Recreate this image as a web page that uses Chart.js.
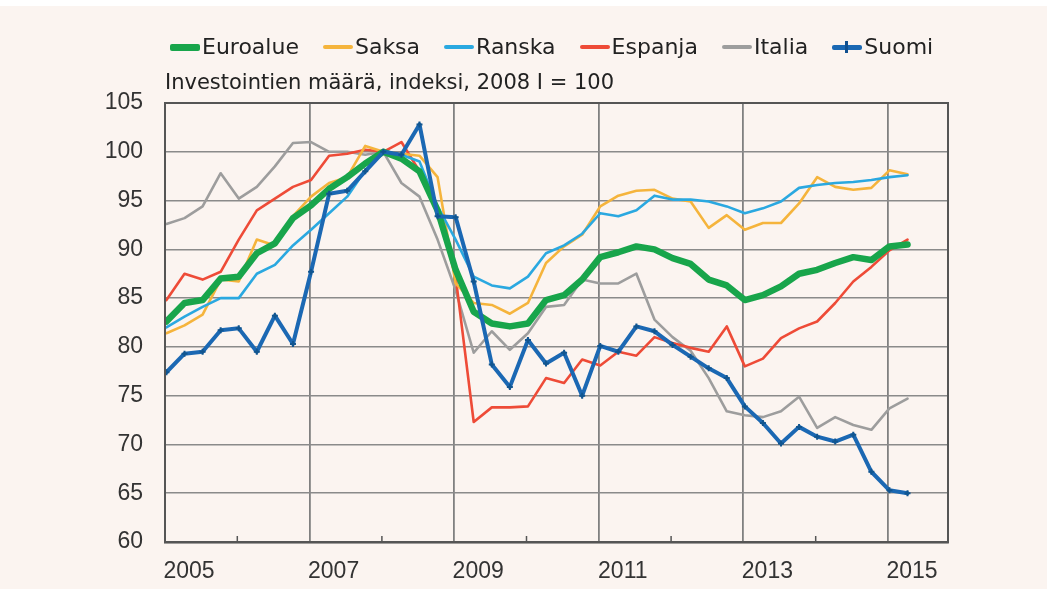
<!DOCTYPE html>
<html><head><meta charset="utf-8">
<script src="https://cdn.jsdelivr.net/npm/chart.js@4.4.1/dist/chart.umd.min.js"></script>
<style>
html,body{margin:0;padding:0;background:#fff;}
#wrap{position:relative;width:1047px;height:589px;background:#fbf4f0;overflow:hidden;}
#topstrip{position:absolute;left:0;top:0;width:1047px;height:6px;background:#fff;}
canvas{position:absolute;left:0;top:0;}
#legend{position:absolute;left:170px;top:34px;display:flex;align-items:center;font-family:"DejaVu Sans";font-size:22px;line-height:26px;color:#222;white-space:nowrap;}
.item{display:flex;align-items:center;margin-right:24px;}
.sw{width:30px;margin-right:2px;border-radius:2px;position:relative;}
.mk{position:absolute;left:13px;top:-4px;width:3px;height:12px;background:#0f4f8f;}
#title{position:absolute;left:165px;top:70px;font-family:"DejaVu Sans";font-size:21px;line-height:25px;color:#222;white-space:nowrap;}
</style></head>
<body>
<div id="wrap">
  <div id="topstrip"></div>
  <canvas id="c" width="1047" height="589"></canvas>
  <div id="legend"></div>
  <div id="title"></div>
</div>
<script>
const titleText = 'Investointien määrä, indeksi, 2008 I = 100';
const quarters = ['2005 I','2005 II','2005 III','2005 IV','2006 I','2006 II','2006 III','2006 IV',
  '2007 I','2007 II','2007 III','2007 IV','2008 I','2008 II','2008 III','2008 IV',
  '2009 I','2009 II','2009 III','2009 IV','2010 I','2010 II','2010 III','2010 IV',
  '2011 I','2011 II','2011 III','2011 IV','2012 I','2012 II','2012 III','2012 IV',
  '2013 I','2013 II','2013 III','2013 IV','2014 I','2014 II','2014 III','2014 IV',
  '2015 I','2015 II'];
const yearLabels = ['2005','2007','2009','2011','2013','2015'];
const minorYears = [2006,2008,2010,2012,2014];

const euroalue = [82.6,84.5,84.8,87.0,87.2,89.6,90.6,93.2,94.5,96.2,97.4,98.8,100.0,99.3,98.0,94.0,87.9,83.6,82.4,82.1,82.4,84.8,85.3,86.9,89.2,89.7,90.3,90.0,89.1,88.5,86.9,86.3,84.8,85.3,86.2,87.5,87.9,88.6,89.2,88.9,90.3,90.5];
const saksa = [81.4,82.2,83.3,86.9,86.7,91.0,90.4,93.4,95.4,96.8,97.4,100.6,100.0,99.8,99.6,97.4,86.5,84.5,84.3,83.4,84.5,88.6,90.3,91.5,94.4,95.5,96.0,96.1,95.2,94.9,92.2,93.5,92.0,92.7,92.7,94.7,97.4,96.4,96.1,96.3,98.1,97.7];
const ranska = [82.0,83.1,84.1,85.0,85.0,87.5,88.4,90.4,92.0,93.7,95.4,98.1,100.0,99.7,99.0,94.4,91.0,87.2,86.3,86.0,87.2,89.6,90.4,91.6,93.7,93.4,94.0,95.5,95.1,95.1,94.9,94.4,93.7,94.2,94.9,96.3,96.6,96.8,96.9,97.1,97.4,97.6];
const espanja = [84.8,87.5,86.9,87.7,91.0,94.0,95.2,96.4,97.1,99.6,99.8,100.2,100.0,101.0,98.0,94.0,87.2,72.3,73.8,73.8,73.9,76.8,76.3,78.7,78.1,79.5,79.1,81.0,80.4,79.9,79.5,82.1,78.0,78.8,80.9,81.9,82.6,84.5,86.7,88.2,89.9,91.0];
const italia = [92.6,93.2,94.4,97.8,95.2,96.4,98.5,100.9,101.0,100.0,100.0,99.7,100.0,96.8,95.4,91.0,85.8,79.4,81.6,79.7,81.4,84.1,84.3,86.9,86.5,86.5,87.5,82.8,81.0,79.6,76.8,73.4,73.0,72.8,73.4,74.9,71.7,72.8,72.0,71.5,73.7,74.7];
const suomi = [77.4,79.3,79.5,81.7,81.9,79.5,83.2,80.3,87.7,95.7,96.0,98.0,100.0,99.7,102.8,93.4,93.3,86.7,78.2,75.9,80.7,78.3,79.4,75.0,80.1,79.5,82.1,81.6,80.2,79.0,77.8,76.8,73.9,72.2,70.1,71.8,70.8,70.3,71.0,67.2,65.3,65.0];

const seriesNames = ['Euroalue','Saksa','Ranska','Espanja','Italia','Suomi'];
const seriesValues = [euroalue, saksa, ranska, espanja, italia, suomi];
const colors = ['#18a54b','#f5b43c','#2aa8e0','#ee4b37','#9d9d9d','#1b68b3'];
const widths = [6.5,2.6,2.6,2.6,2.6,4];
const orders = [1,3,2,4,5,0];

const X_OFF = 0.08;
const toPts = arr => arr.map((v,i)=>({x: i + X_OFF, y: v}));

const datasets = seriesNames.map((n,k)=>({
  label: n,
  data: toPts(seriesValues[k]),
  borderColor: colors[k],
  backgroundColor: colors[k],
  borderWidth: widths[k],
  pointRadius: n === 'Suomi' ? 3 : 0,
  pointStyle: 'cross',
  pointBorderWidth: 2,
  pointBorderColor: '#11558f',
  tension: 0,
  borderJoinStyle: 'round',
  borderCapStyle: 'round',
  order: orders[k]
}));

// legend (HTML)
const leg = document.getElementById('legend');
seriesNames.forEach((n,k)=>{
  const it = document.createElement('div'); it.className='item';
  const sw = document.createElement('div'); sw.className='sw';
  sw.style.height = (k===0 ? 7 : (k===5 ? 5 : 4)) + 'px';
  sw.style.background = colors[k];
  if (k===5){ const m=document.createElement('div'); m.className='mk'; sw.appendChild(m); }
  const tx = document.createElement('span'); tx.textContent = n;
  it.appendChild(sw); it.appendChild(tx); leg.appendChild(it);
});
document.getElementById('title').textContent = titleText;

const frame = {
  id:'frame',
  afterDraw(chart){
    const {ctx, chartArea:a, scales:{x}} = chart;
    ctx.save();
    ctx.strokeStyle = '#555'; ctx.lineWidth = 2;
    ctx.strokeRect(a.left, a.top, a.right-a.left, a.bottom-a.top);
    ctx.lineWidth = 1.5;
    minorYears.forEach(yr=>{
      const px = x.getPixelForValue((yr-2005)*4);
      ctx.beginPath(); ctx.moveTo(px, a.bottom); ctx.lineTo(px, a.bottom-6); ctx.stroke();
    });
    ctx.restore();
  }
};

new Chart(document.getElementById('c'), {
  type: 'line',
  data: { datasets },
  options: {
    responsive: false,
    animation: false,
    devicePixelRatio: 1,
    layout: { padding: { top: 103, right: 99, bottom: 0, left: 0 } },
    plugins: { legend: { display: false }, tooltip: { enabled: false }, title: { display: false } },
    scales: {
      x: {
        type: 'linear', min: 0, max: 43.32,
        afterFit(s){ s.height = 47; },
        ticks: {
          stepSize: 8, includeBounds: false, autoSkip: false, maxRotation: 0,
          labelOffset: 24, padding: 16, color: '#333',
          font: { family: 'Liberation Sans', size: 23 },
          callback: v => yearLabels[Math.round(v/8)] ?? ''
        },
        grid: { color: '#808080', lineWidth: 1.8, drawTicks: false },
        border: { display: true, color: '#444', width: 2.5 }
      },
      y: {
        min: 60, max: 105,
        afterFit(s){ s.width = 165; },
        ticks: { stepSize: 5, padding: 22, color: '#333', font: { family: 'Liberation Sans', size: 23 } },
        grid: { color: '#8a8a8a', lineWidth: 1.5, drawTicks: false },
        border: { display: true, color: '#555', width: 2 }
      }
    }
  },
  plugins: [frame]
});
</script>
</body></html>
